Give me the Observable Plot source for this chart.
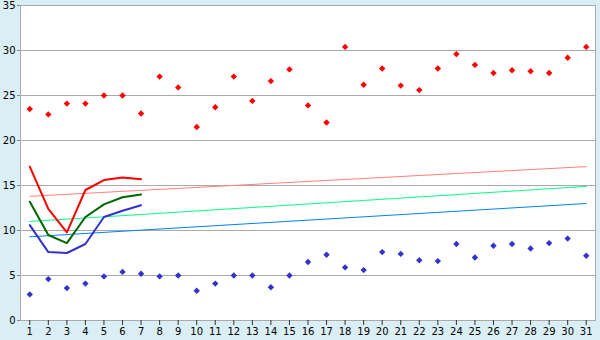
<!DOCTYPE html>
<html>
<head>
<meta charset="utf-8">
<script src="https://cdn.jsdelivr.net/npm/d3@7"></script>
<script src="https://cdn.jsdelivr.net/npm/@observablehq/plot@0.6"></script>
<style>
  html, body { margin: 0; padding: 0; background: #daeef5; }
</style>
</head>
<body>
<div id="chart"></div>
<script>
const days = [1,2,3,4,5,6,7,8,9,10,11,12,13,14,15,16,17,18,19,20,21,22,23,24,25,26,27,28,29,30,31];
const yTicks = [0,5,10,15,20,25,30,35];

const redPoints = [23.5,22.9,24.1,24.1,25.0,25.0,23.0,27.1,25.9,21.5,23.7,27.1,24.4,26.6,27.9,23.9,22.0,30.4,26.2,28.0,26.1,25.6,28.0,29.6,28.4,27.5,27.8,27.7,27.5,29.2,30.4];
const bluePoints = [2.9,4.6,3.6,4.1,4.9,5.4,5.2,4.9,5.0,3.3,4.1,5.0,5.0,3.7,5.0,6.5,7.3,5.9,5.6,7.6,7.4,6.7,6.6,8.5,7.0,8.3,8.5,8.0,8.6,9.1,7.2];

const lineDays = [1,2,3,4,5,6,7];
const redLine = [17.1,12.4,9.8,14.5,15.6,15.9,15.7];
const greenLine = [13.2,9.5,8.6,11.5,12.9,13.7,14.0];
const blueLine = [10.6,7.6,7.5,8.5,11.5,12.2,12.8];

const trendDays = [1,31];
const pinkTrend = [13.8,17.1];
const greenTrend = [11.0,14.9];
const blueTrend = [9.3,13.0];

const pts = (xs, ys) => xs.map((d, i) => ({day: d, v: ys[i]}));

// small pixel-style diamond marker
const diamondMarker = {
  draw(context, size) {
    const h = 3.2;
    context.moveTo(0, -h);
    context.lineTo(h, 0);
    context.lineTo(0, h);
    context.lineTo(-h, 0);
    context.closePath();
  }
};

const chart = Plot.plot({
  width: 600,
  height: 340,
  marginLeft: 20,
  marginRight: 5,
  marginTop: 5,
  marginBottom: 20,
  style: {background: "#daeef5", fontFamily: "DejaVu Sans, Verdana, sans-serif", fontSize: "10px", color: "black"},
  x: {type: "point", domain: days, padding: 0.5, round: false, axis: null},
  y: {domain: [0, 35], axis: null},
  marks: [
    Plot.frame({fill: "white", stroke: "none"}),
    Plot.ruleY(yTicks, {stroke: "#aaaaaa", strokeWidth: 1}),
    Plot.frame({stroke: "#aaaaaa", strokeWidth: 1}),
    Plot.axisY({ticks: yTicks, tickSize: 3, tickPadding: 2, stroke: "#888888", fill: "black", label: null}),
    Plot.axisX({ticks: days, tickSize: 5, tickPadding: 2, stroke: "#333333", fill: "black", label: null}),
    Plot.line(pts(trendDays, pinkTrend), {x: "day", y: "v", stroke: "#ff8080", strokeWidth: 1}),
    Plot.line(pts(trendDays, greenTrend), {x: "day", y: "v", stroke: "#00ff80", strokeWidth: 1}),
    Plot.line(pts(trendDays, blueTrend), {x: "day", y: "v", stroke: "#0080ff", strokeWidth: 1}),
    Plot.line(pts(lineDays, redLine), {x: "day", y: "v", stroke: "#ff0000", strokeWidth: 2}),
    Plot.line(pts(lineDays, greenLine), {x: "day", y: "v", stroke: "#006600", strokeWidth: 2}),
    Plot.line(pts(lineDays, blueLine), {x: "day", y: "v", stroke: "#3333cc", strokeWidth: 2}),
    Plot.dot(pts(days, redPoints), {x: "day", y: "v", symbol: diamondMarker, r: 3, fill: "#ff0000", stroke: "none"}),
    Plot.dot(pts(days, bluePoints), {x: "day", y: "v", symbol: diamondMarker, r: 3, fill: "#3333cc", stroke: "none"})
  ]
});
document.getElementById("chart").appendChild(chart);
</script>
</body>
</html>
